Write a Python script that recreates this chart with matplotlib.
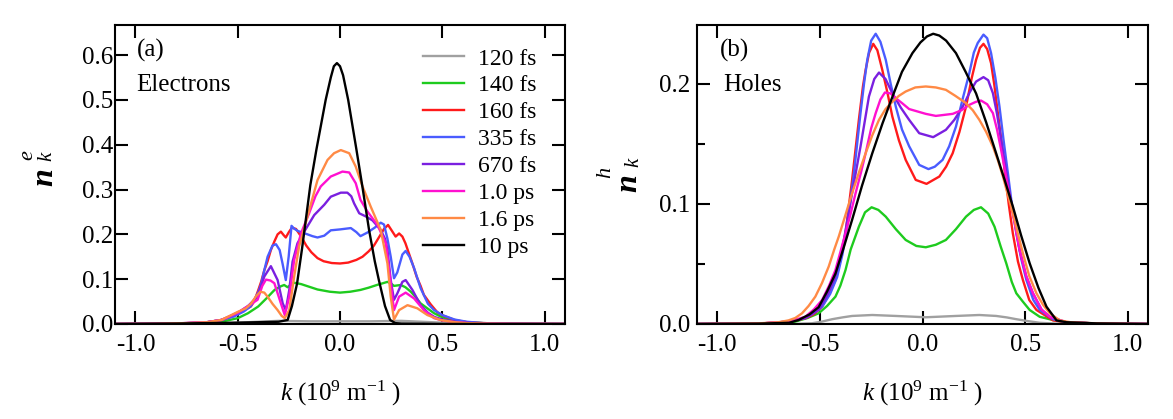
import matplotlib
matplotlib.use("Agg")
import matplotlib.pyplot as plt
from matplotlib.ticker import MultipleLocator

plt.rcParams['font.family'] = ['Liberation Serif', 'DejaVu Serif']
plt.rcParams['mathtext.fontset'] = 'custom'
plt.rcParams['mathtext.rm'] = 'Liberation Serif'
plt.rcParams['mathtext.it'] = 'Liberation Serif:italic'
plt.rcParams['mathtext.bf'] = 'Liberation Serif:bold'

# ---------------- data ----------------
labels = ["120 fs", "140 fs", "160 fs", "335 fs", "670 fs", "1.0 ps", "1.6 ps", "10 ps"]
colors = ["#a0a0a0", "#1ecb1e", "#ff1a1a", "#4a5cff", "#7a1fe0", "#ff10d0", "#ff8a45", "#000000"]

# Panel (a): electrons
e_k_120 = [-1.1, -0.7, -0.55, -0.4, -0.3, -0.15, 0.0, 0.15, 0.3, 0.4, 0.55, 0.7, 1.1]
e_n_120 = [0, 0.0005, 0.002, 0.005, 0.007, 0.006, 0.006, 0.006, 0.007, 0.005, 0.002, 0.0005, 0]

e_k_140 = [-1.1, -0.8, -0.7, -0.63, -0.57, -0.5, -0.45, -0.4, -0.36, -0.32, -0.29, -0.273, -0.256, -0.24, -0.224,
           -0.19, -0.15, -0.11, -0.05, 0.0, 0.05, 0.10, 0.14, 0.18, 0.21, 0.232, 0.25, 0.264, 0.28, 0.297, 0.32,
           0.346, 0.37, 0.394, 0.43, 0.46, 0.5, 0.54, 0.62, 0.7, 0.85, 1.1]
e_n_140 = [0, 0.0005, 0.001, 0.003, 0.006, 0.013, 0.024, 0.039, 0.057, 0.076, 0.084, 0.087, 0.082, 0.088, 0.092,
           0.089, 0.083, 0.077, 0.072, 0.070, 0.072, 0.076, 0.081, 0.087, 0.091, 0.094, 0.09, 0.085, 0.086, 0.087, 0.082,
           0.072, 0.06, 0.046, 0.034, 0.024, 0.015, 0.009, 0.004, 0.002, 0.0005, 0]

e_k_160 = [-1.1, -0.9, -0.75, -0.65, -0.58, -0.517, -0.47, -0.436, -0.42, -0.40, -0.385, -0.37, -0.354, -0.338,
           -0.32, -0.305, -0.289, -0.275, -0.265, -0.25, -0.235, -0.215, -0.19, -0.165, -0.14, -0.11, -0.08, -0.04,
           0.0, 0.04, 0.08, 0.11, 0.14, 0.166, 0.19, 0.215, 0.235, 0.255, 0.272, 0.289, 0.305, 0.32, 0.335, 0.354,
           0.375, 0.394, 0.41, 0.443, 0.476, 0.508, 0.56, 0.62, 0.7, 0.85, 1.1]
e_n_160 = [0, 0.0005, 0.002, 0.004, 0.009, 0.018, 0.03, 0.039, 0.05, 0.075, 0.095, 0.12, 0.14, 0.165,
           0.185, 0.2, 0.206, 0.198, 0.193, 0.205, 0.215, 0.212, 0.195, 0.175, 0.16, 0.147, 0.14, 0.136,
           0.135, 0.137, 0.143, 0.150, 0.162, 0.175, 0.193, 0.212, 0.221, 0.207, 0.195, 0.202, 0.195, 0.18, 0.16, 0.135,
           0.105, 0.085, 0.065, 0.044, 0.026, 0.018, 0.009, 0.004, 0.002, 0.0005, 0]

e_k_335 = [-1.1, -0.9, -0.75, -0.65, -0.58, -0.517, -0.47, -0.436, -0.40, -0.385, -0.37, -0.354, -0.33, -0.313,
           -0.295, -0.281, -0.265, -0.251, -0.237, -0.225, -0.208, -0.185, -0.159, -0.135, -0.11, -0.077, -0.045,
           0.0, 0.053, 0.08, 0.10, 0.134, 0.17, 0.199, 0.215, 0.232, 0.248, 0.264, 0.28, 0.305, 0.321, 0.34, 0.362,
           0.394, 0.43, 0.46, 0.5, 0.56, 0.62, 0.7, 0.85, 1.1]
e_n_335 = [0, 0.0005, 0.002, 0.004, 0.009, 0.017, 0.028, 0.04, 0.07, 0.09, 0.12, 0.15, 0.175, 0.178,
           0.165, 0.135, 0.098, 0.15, 0.219, 0.213, 0.208, 0.204, 0.200, 0.196, 0.193, 0.197, 0.209,
           0.211, 0.214, 0.205, 0.196, 0.204, 0.215, 0.226, 0.222, 0.19, 0.15, 0.102, 0.115, 0.155, 0.163, 0.15, 0.125,
           0.08, 0.045, 0.031, 0.02, 0.01, 0.005, 0.002, 0.0005, 0]

e_k_670 = [-1.1, -0.9, -0.75, -0.65, -0.58, -0.5, -0.45, -0.403, -0.37, -0.338, -0.305, -0.28, -0.265, -0.248,
           -0.232, -0.208, -0.175, -0.126, -0.077, -0.045, 0.004, 0.036, 0.055, 0.069, 0.094, 0.126, 0.159, 0.199,
           0.22, 0.232, 0.248, 0.264, 0.28, 0.305, 0.321, 0.354, 0.394, 0.43, 0.46, 0.5, 0.56, 0.62, 0.7, 0.85, 1.1]
e_n_670 = [0, 0.0005, 0.002, 0.004, 0.009, 0.025, 0.04, 0.061, 0.106, 0.129, 0.098, 0.046, 0.031, 0.076,
           0.139, 0.18, 0.206, 0.243, 0.266, 0.284, 0.293, 0.293, 0.285, 0.269, 0.247, 0.240, 0.231, 0.21,
           0.19, 0.165, 0.098, 0.054, 0.068, 0.094, 0.098, 0.076, 0.042, 0.025, 0.016, 0.01, 0.005, 0.003, 0.001, 0.0003, 0]

e_k_1p0 = [-1.1, -0.9, -0.75, -0.65, -0.58, -0.5, -0.45, -0.403, -0.38, -0.362, -0.34, -0.321, -0.289, -0.27,
           -0.248, -0.224, -0.191, -0.151, -0.12, -0.094, -0.045, 0.012, 0.045, 0.077, 0.10, 0.134, 0.183, 0.224,
           0.248, 0.264, 0.289, 0.321, 0.362, 0.41, 0.46, 0.5, 0.56, 0.62, 0.7, 0.85, 1.1]
e_n_1p0 = [0, 0.0005, 0.002, 0.004, 0.009, 0.025, 0.04, 0.054, 0.085, 0.099, 0.097, 0.091, 0.046, 0.020,
           0.061, 0.143, 0.202, 0.247, 0.285, 0.307, 0.329, 0.340, 0.338, 0.314, 0.277, 0.251, 0.221, 0.180,
           0.091, 0.031, 0.061, 0.070, 0.057, 0.031, 0.013, 0.008, 0.004, 0.002, 0.001, 0.0003, 0]

e_k_1p6 = [-1.1, -0.9, -0.75, -0.65, -0.58, -0.5, -0.46, -0.436, -0.41, -0.39, -0.37, -0.354, -0.33, -0.305,
           -0.285, -0.27, -0.248, -0.224, -0.2, -0.159, -0.11, -0.061, -0.029, 0.004, 0.045, 0.077, 0.11, 0.15,
           0.199, 0.232, 0.248, 0.264, 0.289, 0.33, 0.378, 0.427, 0.49, 0.56, 0.62, 0.7, 0.85, 1.1]
e_n_1p6 = [0, 0.0005, 0.002, 0.004, 0.009, 0.027, 0.035, 0.045, 0.062, 0.072, 0.07, 0.061, 0.045, 0.031,
           0.018, 0.013, 0.031, 0.106, 0.173, 0.240, 0.321, 0.366, 0.381, 0.388, 0.381, 0.351, 0.307, 0.262,
           0.210, 0.135, 0.061, 0.010, 0.031, 0.042, 0.035, 0.020, 0.009, 0.004, 0.002, 0.001, 0.0003, 0]

e_k_10 = [-1.1, -0.8, -0.5, -0.3, -0.256, -0.235, -0.21, -0.185, -0.165, -0.145, -0.115, -0.07, -0.045, -0.03,
          -0.015, 0.0, 0.015, 0.04, 0.08, 0.11, 0.142, 0.17, 0.19, 0.22, 0.245, 0.27, 0.3, 0.5, 1.1]
e_n_10 = [0, 0.001, 0.003, 0.005, 0.009, 0.04, 0.09, 0.17, 0.24, 0.31, 0.39, 0.50, 0.55, 0.575,
          0.582, 0.575, 0.555, 0.50, 0.39, 0.305, 0.21, 0.14, 0.098, 0.04, 0.009, 0.002, 0.001, 0, 0]

# Panel (b): holes
h_k_120 = [-1.1, -0.7, -0.6, -0.538, -0.49, -0.44, -0.39, -0.343, -0.245, -0.13, 0.016, 0.163, 0.277, 0.359,
           0.41, 0.457, 0.51, 0.571, 0.65, 0.75, 1.1]
h_n_120 = [0, 0, 0.0002, 0.0006, 0.002, 0.004, 0.0055, 0.0067, 0.0075, 0.0067, 0.0056, 0.0067, 0.0075, 0.0067,
           0.0055, 0.004, 0.0025, 0.001, 0.0003, 0, 0]

h_k_140 = [-1.1, -0.8, -0.65, -0.62, -0.56, -0.506, -0.465, -0.424, -0.4, -0.375, -0.35, -0.31, -0.28, -0.248,
           -0.215, -0.179, -0.13, -0.082, -0.03, 0.016, 0.065, 0.114, 0.163, 0.212, 0.25, 0.285, 0.32, 0.351, 0.38,
           0.408, 0.435, 0.457, 0.489, 0.522, 0.571, 0.636, 0.7, 0.85, 1.1]
h_n_140 = [0, 0.0003, 0.001, 0.002, 0.005, 0.0089, 0.015, 0.0228, 0.032, 0.045, 0.062, 0.081, 0.093, 0.0972,
           0.095, 0.0894, 0.079, 0.07, 0.065, 0.0639, 0.066, 0.07, 0.079, 0.0894, 0.095, 0.0972, 0.092, 0.081, 0.065,
           0.0506, 0.035, 0.0256, 0.0186, 0.0117, 0.006, 0.0033, 0.0015, 0.0004, 0]

h_k_160 = [-1.1, -0.8, -0.65, -0.571, -0.53, -0.489, -0.455, -0.424, -0.4, -0.375, -0.343, -0.31, -0.29, -0.277,
           -0.26, -0.24, -0.22, -0.196, -0.17, -0.147, -0.115, -0.082, -0.033, 0.0196, 0.082, 0.115, 0.147, 0.18,
           0.212, 0.24, 0.261, 0.28, 0.297, 0.315, 0.334, 0.35, 0.367, 0.385, 0.40, 0.42, 0.44, 0.465, 0.489, 0.52,
           0.555, 0.636, 0.7, 0.85, 1.1]
h_n_160 = [0, 0.0003, 0.002, 0.0047, 0.008, 0.0144, 0.025, 0.0367, 0.053, 0.0756, 0.12, 0.17, 0.198, 0.2117,
           0.226, 0.2333, 0.228, 0.2117, 0.192, 0.1728, 0.153, 0.1367, 0.12, 0.1167, 0.1228, 0.131, 0.1422, 0.16,
           0.181, 0.205, 0.22, 0.23, 0.2333, 0.229, 0.2172, 0.199, 0.1756, 0.152, 0.128, 0.1, 0.0756, 0.052, 0.0367,
           0.02, 0.0117, 0.003, 0.0015, 0.0004, 0]

h_k_335 = [-1.1, -0.8, -0.65, -0.571, -0.53, -0.489, -0.45, -0.416, -0.39, -0.367, -0.334, -0.302, -0.285, -0.269,
           -0.25, -0.228, -0.205, -0.179, -0.155, -0.13, -0.1, -0.065, -0.016, 0.029, 0.06, 0.098, 0.13, 0.163, 0.195,
           0.228, 0.25, 0.269, 0.297, 0.315, 0.334, 0.355, 0.375, 0.395, 0.416, 0.435, 0.457, 0.48, 0.506, 0.54,
           0.571, 0.636, 0.7, 0.85, 1.1]
h_n_335 = [0, 0.0003, 0.002, 0.005, 0.009, 0.0144, 0.025, 0.039, 0.058, 0.0811, 0.1256, 0.1756, 0.2, 0.22,
           0.236, 0.2417, 0.235, 0.22, 0.2, 0.181, 0.162, 0.148, 0.1325, 0.129, 0.131, 0.1367, 0.148, 0.1644, 0.187,
           0.2089, 0.226, 0.234, 0.241, 0.238, 0.2256, 0.205, 0.181, 0.153, 0.1256, 0.1, 0.0756, 0.055, 0.0367, 0.02,
           0.0117, 0.004, 0.0015, 0.0004, 0]

h_k_670 = [-1.1, -0.8, -0.65, -0.571, -0.506, -0.47, -0.432, -0.405, -0.383, -0.343, -0.302, -0.261, -0.235,
           -0.212, -0.18, -0.147, -0.105, -0.065, -0.016, 0.052, 0.114, 0.155, 0.196, 0.23, 0.261, 0.297, 0.32,
           0.343, 0.363, 0.383, 0.405, 0.424, 0.45, 0.473, 0.505, 0.538, 0.58, 0.62, 0.7, 0.85, 1.1]
h_n_670 = [0, 0.0003, 0.002, 0.005, 0.0117, 0.022, 0.0367, 0.053, 0.07, 0.1089, 0.1478, 0.1894, 0.204,
           0.2094, 0.204, 0.1922, 0.18, 0.17, 0.1589, 0.1556, 0.1617, 0.17, 0.181, 0.193, 0.2019, 0.2056, 0.203,
           0.1922, 0.175, 0.1533, 0.13, 0.1089, 0.085, 0.0617, 0.04, 0.0256, 0.012, 0.006, 0.0015, 0.0004, 0]

h_k_1p0 = [-1.1, -0.8, -0.65, -0.571, -0.53, -0.489, -0.455, -0.424, -0.4, -0.375, -0.35, -0.326, -0.3, -0.277,
           -0.25, -0.228, -0.205, -0.183, -0.155, -0.13, -0.1, -0.065, 0.016, 0.065, 0.147, 0.19, 0.228, 0.26, 0.285,
           0.315, 0.343, 0.363, 0.383, 0.405, 0.424, 0.45, 0.473, 0.505, 0.538, 0.58, 0.62, 0.7, 0.85, 1.1]
h_n_1p0 = [0, 0.0003, 0.002, 0.006, 0.012, 0.02, 0.032, 0.045, 0.06, 0.0756, 0.092, 0.1089, 0.126, 0.1422,
           0.163, 0.1756, 0.187, 0.1928, 0.192, 0.188, 0.184, 0.179, 0.175, 0.1733, 0.175, 0.178, 0.1825, 0.185, 0.1861,
           0.183, 0.1756, 0.162, 0.145, 0.125, 0.106, 0.083, 0.0617, 0.04, 0.0256, 0.012, 0.006, 0.0015, 0.0004, 0]

h_k_1p6 = [-1.1, -0.8, -0.7, -0.653, -0.62, -0.587, -0.555, -0.522, -0.49, -0.457, -0.43, -0.408, -0.375, -0.343,
           -0.31, -0.277, -0.245, -0.212, -0.18, -0.147, -0.115, -0.082, -0.035, 0.016, 0.065, 0.114, 0.16, 0.212,
           0.245, 0.277, 0.31, 0.343, 0.368, 0.392, 0.415, 0.44, 0.465, 0.489, 0.52, 0.555, 0.587, 0.62, 0.669, 0.72,
           0.85, 1.1]
h_n_1p6 = [0, 0.0005, 0.0015, 0.003, 0.005, 0.0089, 0.015, 0.0228, 0.034, 0.0478, 0.062, 0.0728, 0.091, 0.1089,
           0.126, 0.1422, 0.157, 0.17, 0.179, 0.185, 0.19, 0.1936, 0.197, 0.1978, 0.197, 0.195, 0.19, 0.1839,
           0.178, 0.17, 0.16, 0.1478, 0.136, 0.1228, 0.108, 0.0922, 0.075, 0.0589, 0.04, 0.0256, 0.016, 0.0089, 0.003,
           0.0015, 0.0005, 0]

h_k_10 = [-1.1, -0.8, -0.65, -0.604, -0.55, -0.506, -0.465, -0.424, -0.385, -0.343, -0.295, -0.245, -0.195,
          -0.147, -0.1, -0.049, -0.01, 0.022, 0.052, 0.082, 0.115, 0.163, 0.21, 0.261, 0.31, 0.359, 0.40, 0.44, 0.48,
          0.522, 0.565, 0.604, 0.653, 0.7, 0.85, 1.1]
h_n_10 = [0, 0.0003, 0.001, 0.0033, 0.008, 0.014, 0.027, 0.042, 0.063, 0.0867, 0.115, 0.142, 0.167,
          0.189, 0.21, 0.2256, 0.2345, 0.2395, 0.2417, 0.2402, 0.236, 0.2256, 0.21, 0.192, 0.168, 0.142, 0.12, 0.098,
          0.074, 0.0506, 0.03, 0.0144, 0.003, 0.0015, 0.0005, 0]

electron_series = [(e_k_120, e_n_120), (e_k_140, e_n_140), (e_k_160, e_n_160), (e_k_335, e_n_335),
                   (e_k_670, e_n_670), (e_k_1p0, e_n_1p0), (e_k_1p6, e_n_1p6), (e_k_10, e_n_10)]
hole_series = [(h_k_120, h_n_120), (h_k_140, h_n_140), (h_k_160, h_n_160), (h_k_335, h_n_335),
               (h_k_670, h_n_670), (h_k_1p0, h_n_1p0), (h_k_1p6, h_n_1p6), (h_k_10, h_n_10)]

xticks = [-1.0, -0.5, 0.0, 0.5, 1.0]
xticklabels = ["-1.0", "-0.5", "0.0", "0.5", "1.0"]
yticks_a = [0.0, 0.1, 0.2, 0.3, 0.4, 0.5, 0.6]
yticks_b = [0.0, 0.1, 0.2]

# ---------------- figure ----------------
W, H = 1173, 419
fig = plt.figure(figsize=(W / 100, H / 100), dpi=100)


def px_axes(x0, x1, y0, y1):
    return fig.add_axes([x0 / W, 1 - y1 / H, (x1 - x0) / W, (y1 - y0) / H])


axa = px_axes(115, 565, 25, 324)
axb = px_axes(696.7, 1148.3, 25, 324)

LW = 1.7
for ax, series in ((axa, electron_series), (axb, hole_series)):
    for (k, n), c, lab in zip(series, colors, labels):
        ax.plot(k, n, color=c, lw=LW, label=lab, solid_joinstyle='round')
    ax.set_xlim(-1.1, 1.1)
    ax.set_xticks(xticks)
    ax.set_xticklabels(xticklabels)
    for s in ax.spines.values():
        s.set_linewidth(1.5)
    ax.tick_params(axis='both', which='major', direction='in', length=9.5, width=1.5,
                   top=True, right=True, labelsize=18)
    ax.tick_params(axis='x', which='major', pad=7.5)

axa.set_ylim(0, 0.667)
axa.set_yticks(yticks_a)
axa.set_yticklabels([f"{v:.1f}" for v in yticks_a])
axa.tick_params(axis='y', which='major', pad=1.5)

axb.set_ylim(0, 0.249)
axb.set_yticks(yticks_b)
axb.set_yticklabels([f"{v:.1f}" for v in yticks_b])
axb.yaxis.set_minor_locator(MultipleLocator(0.05))
axb.tick_params(axis='y', which='minor', direction='in', length=5.5, width=1.5, left=True, right=True)
axb.tick_params(axis='y', which='major', pad=5)

# panel annotations
axa.text(0.049, 0.916, "(a)", transform=axa.transAxes, fontsize=18, va='center', ha='left')
axa.text(0.047, 0.799, "Electrons", transform=axa.transAxes, fontsize=18, va='center', ha='left')
axb.text(0.052, 0.916, "(b)", transform=axb.transAxes, fontsize=18, va='center', ha='left')
axb.text(0.058, 0.799, "Holes", transform=axb.transAxes, fontsize=18, va='center', ha='left')

# legend
leg = axa.legend(loc='upper left', bbox_to_anchor=((423 - 115) / 450, (324 - 48) / 299),
                 frameon=False, fontsize=17, handlelength=1.75, handletextpad=0.6,
                 labelspacing=0.23, borderpad=0, borderaxespad=0)


# y labels (n with superscript and subscript), rotated
def ylab(xn, yn, sup, xs, ys, xk, yk):
    fig.text(xn / W, 1 - yn / H, "n", rotation=90, fontsize=23, fontweight='bold', fontstyle='italic',
             ha='center', va='center')
    fig.text(xs / W, 1 - ys / H, sup, rotation=90, fontsize=16, fontstyle='italic', ha='center', va='center')
    fig.text(xk / W, 1 - yk / H, "k", rotation=90, fontsize=15, fontstyle='italic', ha='center', va='center')


ylab(44.5, 177, "e", 28, 155, 47, 156)
ylab(629, 183, "h", 606, 172, 634, 162)

# x labels
xl = r"$\mathit{k}$ (10$^{9}$ m$^{-1}$ )"
fig.text(340 / W, 1 - 393 / H, xl, fontsize=18, ha='center', va='center')
fig.text(922 / W, 1 - 393 / H, xl, fontsize=18, ha='center', va='center')

fig.savefig("out.png", dpi=100)
